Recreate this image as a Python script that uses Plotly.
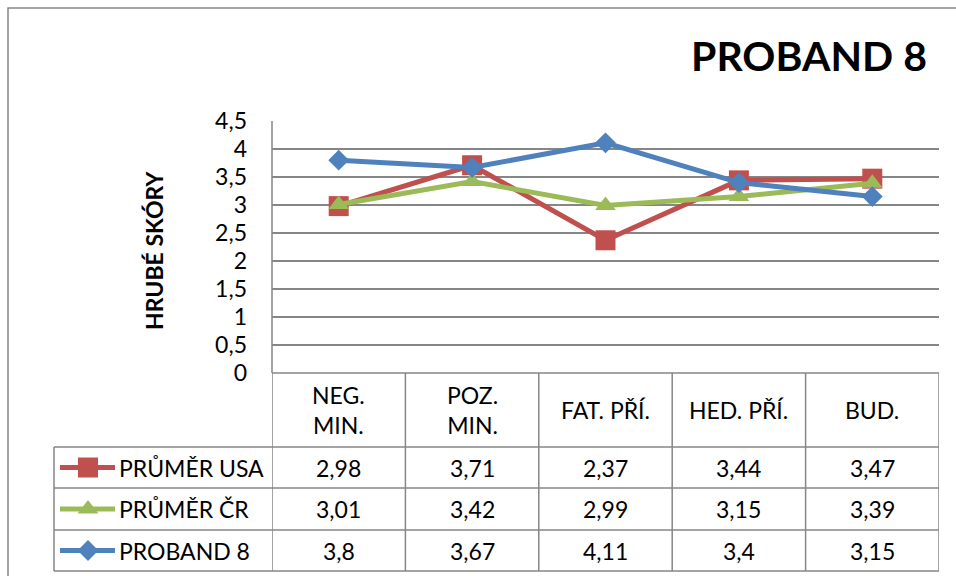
import plotly.graph_objects as go

categories = ["NEG.<br>MIN.", "POZ.<br>MIN.", "FAT. PŘÍ.", "HED. PŘÍ.", "BUD."]
series_names = ["PRŮMĚR USA", "PRŮMĚR ČR", "PROBAND 8"]
usa = [2.98, 3.71, 2.37, 3.44, 3.47]
cr = [3.01, 3.42, 2.99, 3.15, 3.39]
proband = [3.8, 3.67, 4.11, 3.4, 3.15]
y_ticks = [0, 0.5, 1, 1.5, 2, 2.5, 3, 3.5, 4, 4.5]

W, H = 956, 576
FONT = "Lato"
GRID = "#868686"
colors = ["#C0504D", "#9BBB59", "#4F81BD"]
symbols = ["square", "triangle-up", "diamond"]
msizes = [20, 18, 16]
values = [usa, cr, proband]
FS = 23

def px(x):
    return x / W

def py(y):
    return (H - y) / H

PL, PR, PT, PB = 272, 939, 121, 373
ROWS = [373, 447, 488, 530, 571]
LEG_L = 54

fig = go.Figure()

shapes = []
annotations = []
shapes.append(dict(type="rect", xref="paper", yref="paper",
                   x0=px(8), x1=px(W + 5), y0=py(H + 5), y1=py(8),
                   line=dict(color=GRID, width=1.5), layer="below"))
for i, ry in enumerate(ROWS):
    x0 = px(PL) if i == 0 else px(LEG_L)
    shapes.append(dict(type="line", xref="paper", yref="paper",
                       x0=x0, x1=px(PR), y0=py(ry), y1=py(ry),
                       line=dict(color=GRID, width=1.5), layer="below"))
n = len(categories)
for k in range(n + 1):
    shapes.append(dict(type="line", xref="x", yref="paper",
                       x0=k - 0.5, x1=k - 0.5, y0=py(ROWS[-1]), y1=py(ROWS[0]),
                       line=dict(color=GRID, width=1.5), layer="below"))
shapes.append(dict(type="line", xref="paper", yref="paper",
                   x0=px(LEG_L), x1=px(LEG_L), y0=py(ROWS[-1]), y1=py(ROWS[1]),
                   line=dict(color=GRID, width=1.5), layer="below"))
shapes.append(dict(type="line", xref="paper", yref="paper",
                   x0=px(PL), x1=px(PL), y0=py(PB), y1=py(PT),
                   line=dict(color=GRID, width=1.5), layer="below"))

for k, cat in enumerate(categories):
    annotations.append(dict(x=k, y=py((ROWS[0] + ROWS[1]) / 2), xref="x", yref="paper",
                            text=cat, showarrow=False,
                            font=dict(family=FONT, size=FS, color="#000000"),
                            xanchor="center", yanchor="middle"))
for r, (name, vals, c, s) in enumerate(zip(series_names, values, colors, symbols)):
    cy = (ROWS[r + 1] + ROWS[r + 2]) / 2
    for k, v in enumerate(vals):
        annotations.append(dict(x=k, y=py(cy), xref="x", yref="paper",
                                text=str(v).replace(".", ","), showarrow=False,
                                font=dict(family=FONT, size=FS, color="#000000"),
                                xanchor="center", yanchor="middle"))
    annotations.append(dict(x=px(117), y=py(cy), xref="paper", yref="paper",
                            text=name, showarrow=False,
                            font=dict(family=FONT, size=FS, color="#000000"),
                            xanchor="left", yanchor="middle"))
    fig.add_trace(go.Scatter(x=[60, 88, 115], y=[cy, cy, cy], mode="lines",
                             line=dict(color=c, width=5), xaxis="x2", yaxis="y2",
                             showlegend=False, hoverinfo="skip"))
    fig.add_trace(go.Scatter(x=[88], y=[cy], mode="markers",
                             marker=dict(symbol=s, size=msizes[r], color=c),
                             xaxis="x2", yaxis="y2", showlegend=False, hoverinfo="skip"))

xs = list(range(len(categories)))
for name, vals, c, s, ms in zip(series_names, values, colors, symbols, msizes):
    fig.add_trace(go.Scatter(
        x=xs, y=vals, mode="lines+markers", name=name,
        line=dict(color=c, width=5),
        marker=dict(symbol=s, size=ms, color=c),
        xaxis="x", yaxis="y", showlegend=False, cliponaxis=False))

annotations.append(dict(x=px(929), y=py(55), xref="paper", yref="paper",
                        text="<b>PROBAND 8</b>", showarrow=False,
                        font=dict(family=FONT, size=41, color="#000000"),
                        xanchor="right", yanchor="middle"))
annotations.append(dict(x=px(154), y=py(250), xref="paper", yref="paper",
                        text="<b>HRUBÉ SKÓRY</b>", showarrow=False, textangle=-90,
                        font=dict(family=FONT, size=FS, color="#000000"),
                        xanchor="center", yanchor="middle"))

fig.update_layout(
    width=W, height=H,
    margin=dict(l=0, r=0, t=0, b=0, autoexpand=False),
    paper_bgcolor="white", plot_bgcolor="rgba(0,0,0,0)",
    separators=",.",
    shapes=shapes, annotations=annotations,
    xaxis=dict(domain=[px(PL), px(PR)], range=[-0.5, n - 0.5],
               showgrid=False, showticklabels=False, zeroline=False,
               showline=False, ticks=""),
    yaxis=dict(domain=[py(PB), py(PT)], range=[0, 4.5],
               tickvals=y_ticks, showgrid=True, gridcolor=GRID, gridwidth=1.5,
               zeroline=False, showline=False, ticks="",
               ticklabelstandoff=24,
               tickfont=dict(family=FONT, size=FS, color="#000000")),
    xaxis2=dict(domain=[0, 1], range=[0, W], visible=False, anchor="y2"),
    yaxis2=dict(domain=[0, 1], range=[H, 0], visible=False, anchor="x2"),
)

fig.write_html("out.html", config={"displayModeBar": False},
               post_script="document.body.style.margin='0';document.body.style.overflow='hidden';")
